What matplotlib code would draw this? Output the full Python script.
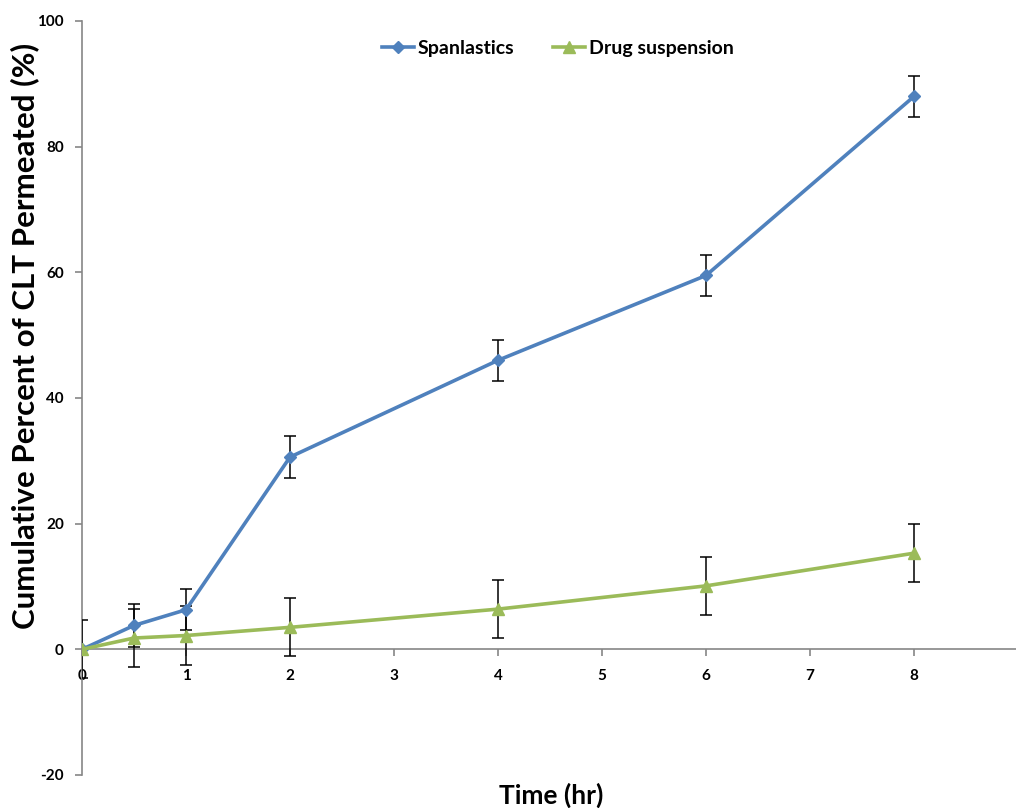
import numpy as np
import matplotlib.pyplot as plt

plt.rcParams['font.family'] = ['Lato', 'DejaVu Sans']
plt.rcParams['axes.unicode_minus'] = False

time_hr = [0, 0.5, 1, 2, 4, 6, 8]
spanlastics = [0.0, 3.8, 6.3, 30.6, 46.0, 59.5, 88.0]
spanlastics_err = [0.0, 3.4, 3.3, 3.3, 3.3, 3.3, 3.3]
suspension = [0.0, 1.8, 2.2, 3.5, 6.4, 10.1, 15.3]
suspension_err = [4.6, 4.6, 4.7, 4.6, 4.6, 4.6, 4.6]
x_ticks = list(range(0, 10))
x_ticklabels = [str(t) for t in range(0, 9)] + ['']

blue = '#4F81BD'
green = '#9BBB59'
grey = '#868686'

fig = plt.figure(figsize=(10.16, 8.08), dpi=100)
ax = fig.add_axes([82 / 1016, 1 - 775 / 808, 936 / 1016, 754 / 808])

ax.errorbar(time_hr, spanlastics, yerr=spanlastics_err, color=blue, lw=2.6,
            marker='D', markersize=6.5, ecolor='black', elinewidth=1.1,
            capsize=4, capthick=1.1, label='Spanlastics', zorder=3)
ax.errorbar(time_hr, suspension, yerr=suspension_err, color=green, lw=2.6,
            marker='^', markersize=8, ecolor='black', elinewidth=1.1,
            capsize=4, capthick=1.1, label='Drug suspension', zorder=3)

ax.set_xlim(0, 9)
ax.set_ylim(-20, 100)
ax.set_xticks(x_ticks)
ax.set_xticklabels(x_ticklabels)
ax.set_yticks(range(-20, 101, 20))

for s in ['top', 'right']:
    ax.spines[s].set_visible(False)
ax.spines['bottom'].set_position(('data', 0))
for s in ['left', 'bottom']:
    ax.spines[s].set_color(grey)
    ax.spines[s].set_linewidth(1.2)
ax.tick_params(axis='both', colors=grey, direction='out', length=5, width=1.2,
               labelcolor='black', labelsize=11)
ax.tick_params(axis='y', pad=8)
ax.tick_params(axis='x', pad=9)
for lab in ax.get_xticklabels() + ax.get_yticklabels():
    lab.set_fontweight('bold')

fig.text(25 / 1016, 1 - 336 / 808, 'Cumulative Percent of CLT Permeated (%)',
         fontsize=22.5, fontweight='bold', rotation=90, ha='center', va='center')
fig.text(551 / 1016, 1 - 795 / 808, 'Time (hr)', fontsize=19,
         fontweight='bold', ha='center', va='center')

handles, labels = ax.get_legend_handles_labels()
handles = [h[0] for h in handles]
ax.legend(handles, labels, loc='center', bbox_to_anchor=(0.5085, 0.964),
          ncol=2, frameon=False, prop={'weight': 'bold', 'size': 14},
          handlelength=1.65, handletextpad=0.2, columnspacing=2.0)

fig.savefig('out.png', dpi=100)
